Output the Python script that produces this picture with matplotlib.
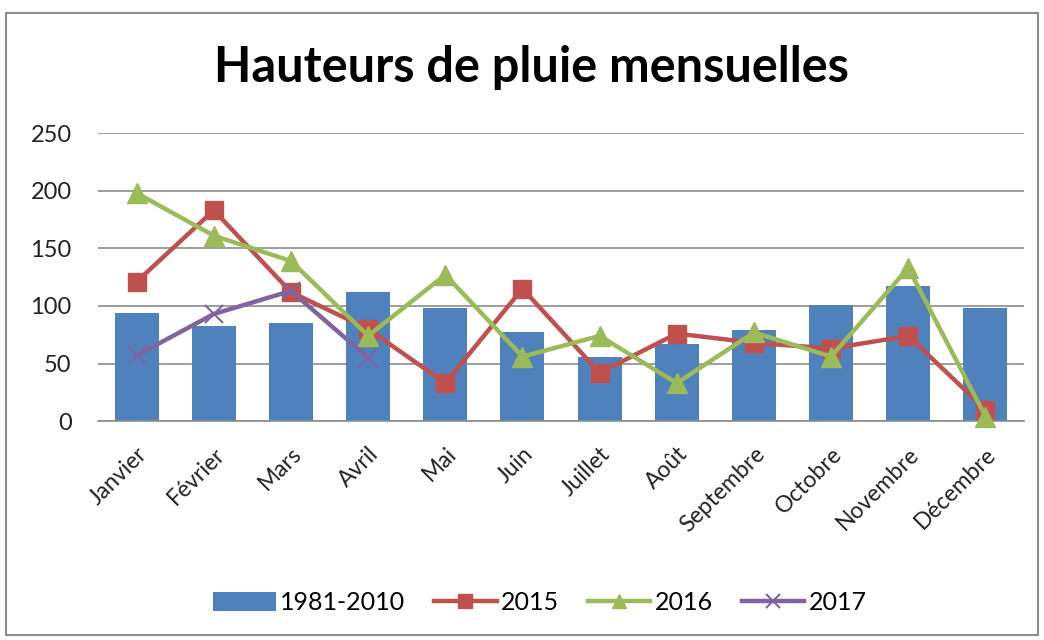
import matplotlib
matplotlib.use("Agg")
import matplotlib.pyplot as plt
from matplotlib.patches import Rectangle
import numpy as np

months = ["Janvier", "Février", "Mars", "Avril", "Mai", "Juin", "Juillet",
          "Août", "Septembre", "Octobre", "Novembre", "Décembre"]
normale_1981_2010 = [94, 83, 85, 112, 98, 77, 56, 67, 79, 101, 117, 98]
pluie_2015 = [121, 183, 112, 80, 33, 115, 42, 76, 68, 63, 74, 10]
pluie_2016 = [198, 161, 139, 74, 127, 56, 74, 33, 77, 56, 133, 4]
pluie_2017 = [57, 93, 113, 55]
yticks = [0, 50, 100, 150, 200, 250]

plt.rcParams['font.family'] = ['Lato', 'DejaVu Sans']

fig = plt.figure(figsize=(10.44, 6.4), dpi=100)
fig.patches.append(Rectangle((0.006, 0.008), 0.988, 0.972, transform=fig.transFigure,
                             fill=False, edgecolor='#8c8c8c', linewidth=1.5))

ax = fig.add_axes([0.0939, 0.342, 0.887, 0.45])
x = np.arange(len(months))
b = ax.bar(x, normale_1981_2010, width=0.57, color='#4F81BD', label='1981-2010', zorder=2)
l1, = ax.plot(x, pluie_2015, color='#C0504D', lw=3.2, marker='s', ms=13, label='2015',
              zorder=3, clip_on=False)
l2, = ax.plot(x, pluie_2016, color='#9BBB59', lw=3.2, marker='^', ms=14, label='2016',
              zorder=4, clip_on=False)
l3, = ax.plot(x[:len(pluie_2017)], pluie_2017, color='#8064A2', lw=3.2, marker='x', ms=13,
              mew=1.5, label='2017', zorder=5, clip_on=False)

ax.set_xlim(-0.5, len(months) - 0.5)
ax.set_ylim(0, 250)
ax.set_yticks(yticks)
ax.set_yticklabels([str(v) for v in yticks], fontsize=17, color='#222222')
ax.yaxis.grid(True, color='#8c8c8c', lw=1.2, zorder=0)
ax.set_axisbelow(True)
for s in ['top', 'right', 'left']:
    ax.spines[s].set_visible(False)
ax.spines['bottom'].set_color('#8c8c8c')
ax.spines['bottom'].set_linewidth(1.2)
ax.tick_params(axis='both', length=0)
ax.tick_params(axis='y', pad=19)
ax.set_xticks(x)
ax.set_xticklabels(months, rotation=45, ha='right', rotation_mode='anchor', fontsize=16.5,
                   color='#222222')
ax.tick_params(axis='x', pad=16)

fig.text(531 / 1044, 1 - 68 / 640, "Hauteurs de pluie mensuelles", ha='center', va='center',
         fontsize=35, fontweight='bold')

fig.legend([b, l1, l2, l3], ['1981-2010', '2015', '2016', '2017'], loc='center',
           bbox_to_anchor=(540 / 1044, 1 - 603 / 640), ncol=4, frameon=False, fontsize=18,
           handlelength=2.5, handleheight=0.8, columnspacing=1.15, handletextpad=0.18,
           markerscale=0.75)

fig.savefig("out.png", dpi=100)
